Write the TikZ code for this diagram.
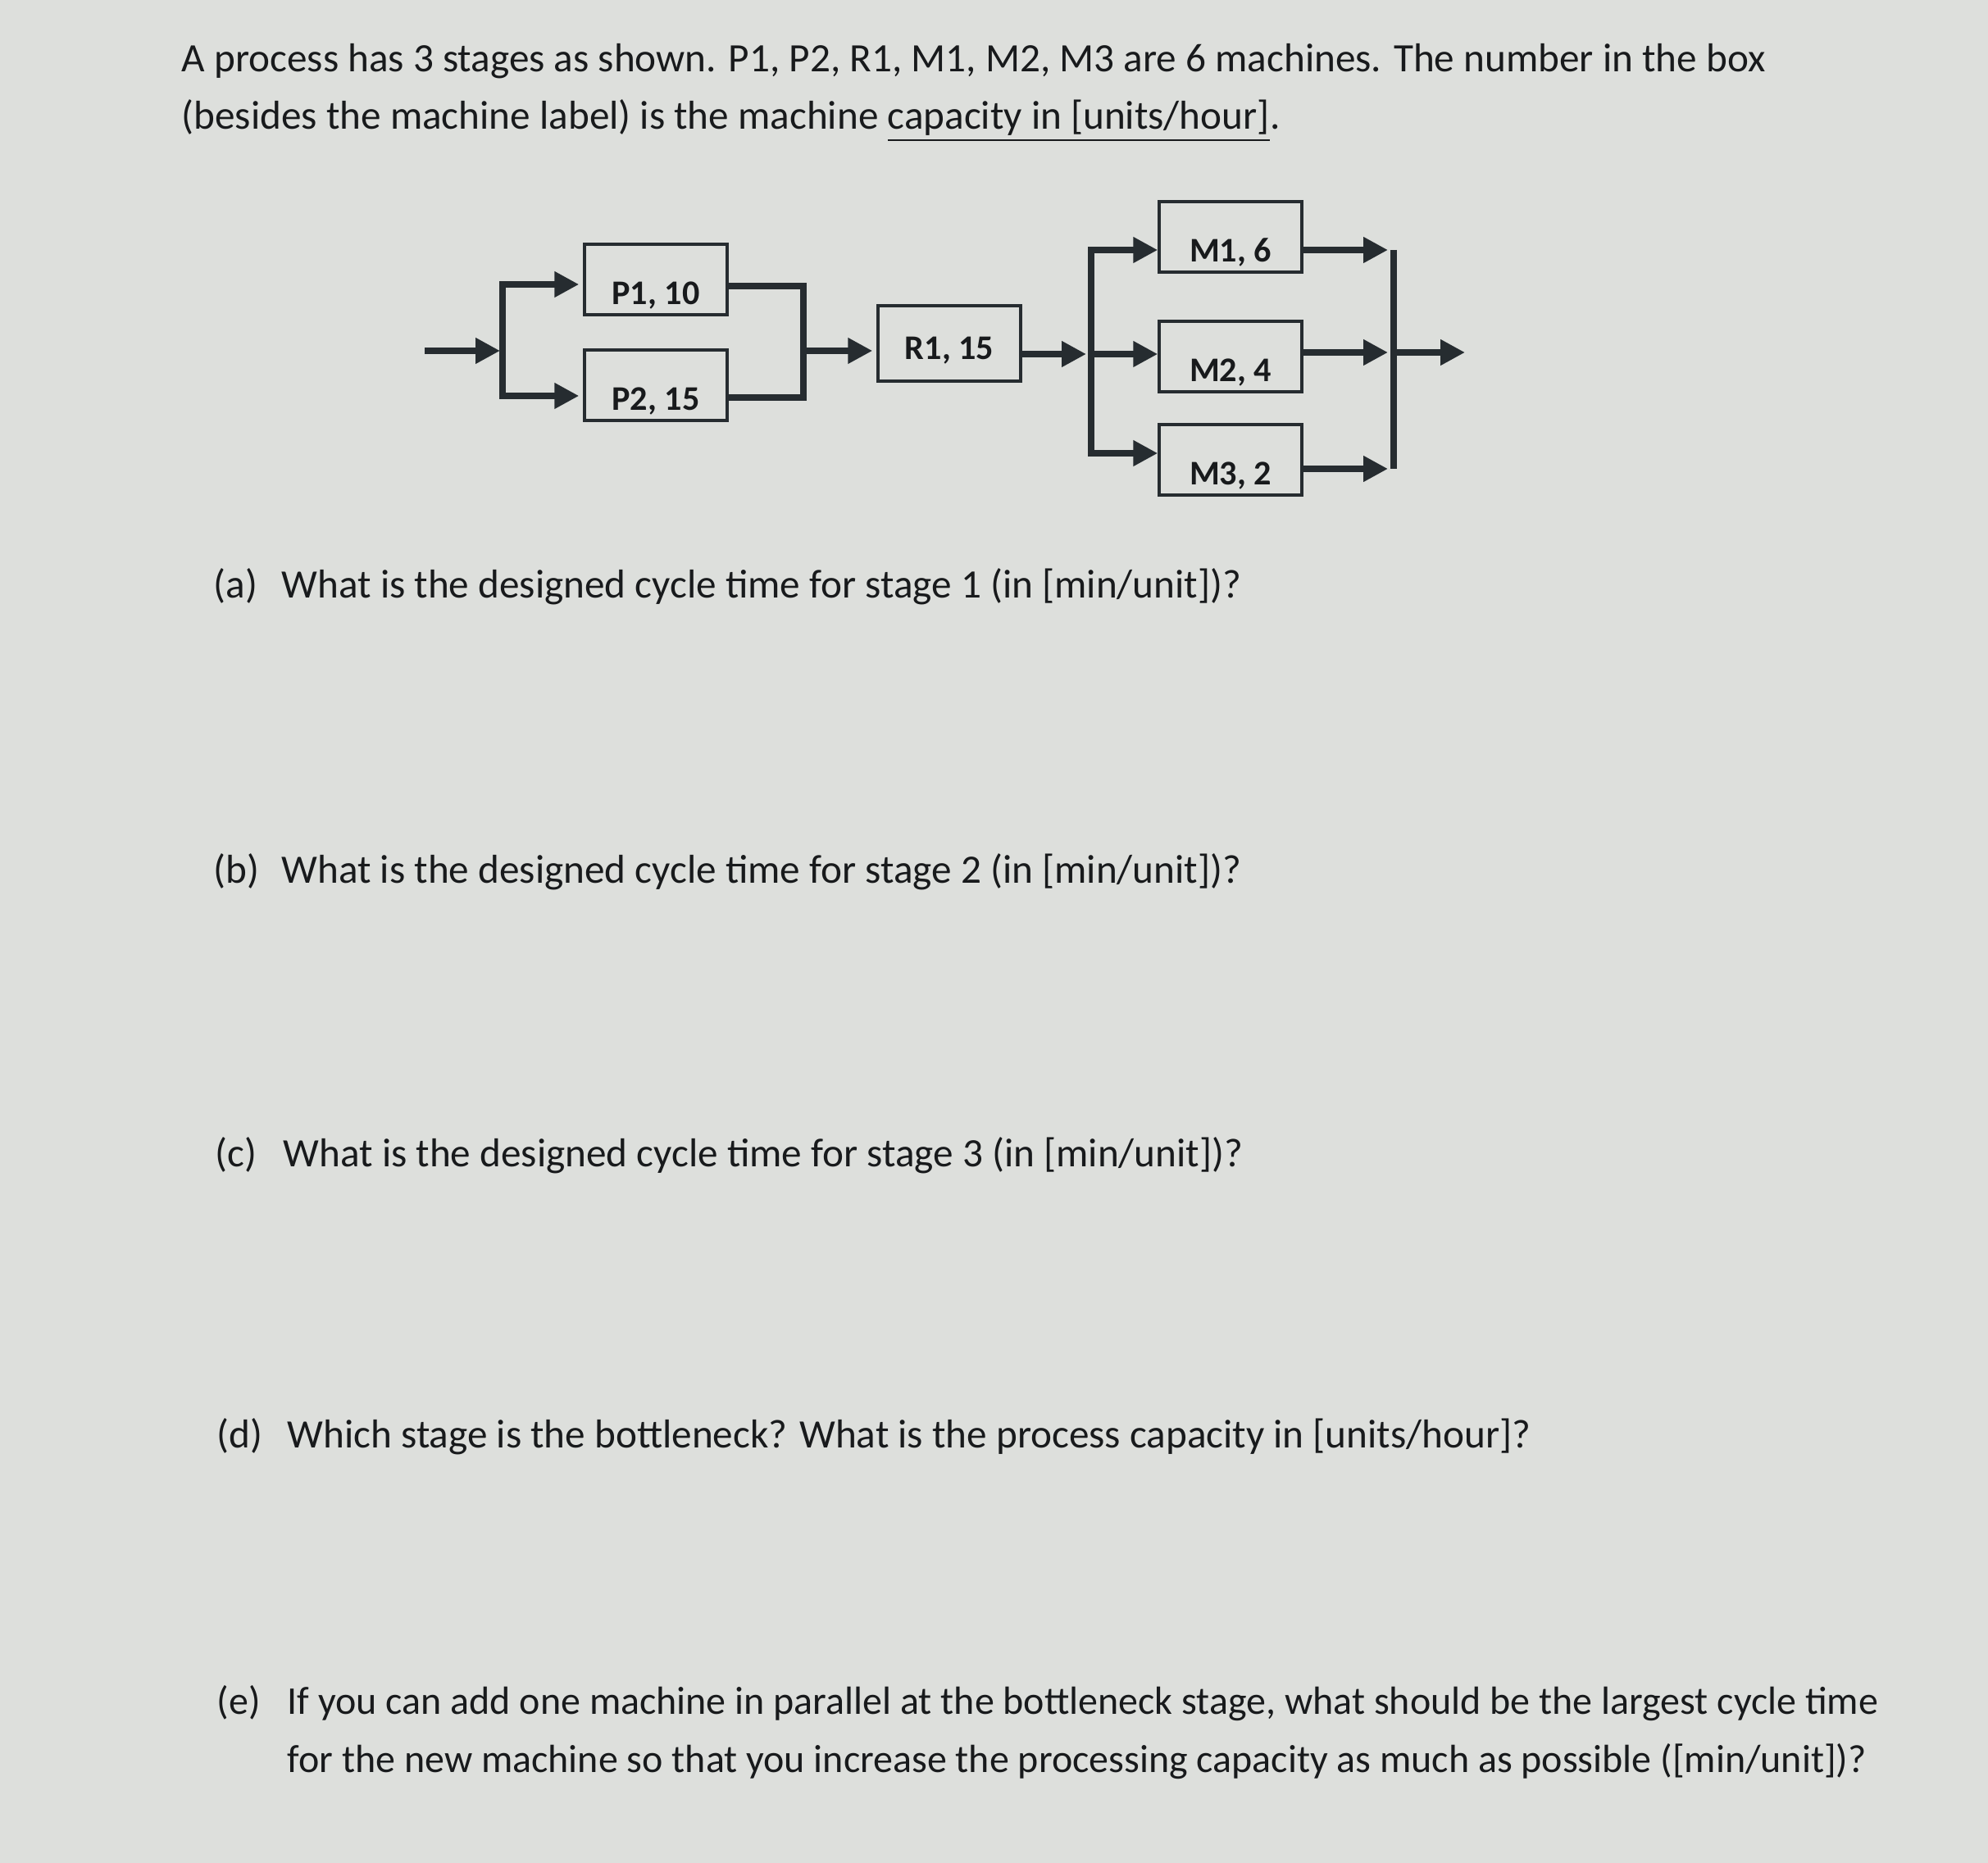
\documentclass[tikz,border=0pt]{standalone}
\usepackage{fontspec}
\setmainfont{Carlito}
\usetikzlibrary{arrows.meta}
\definecolor{screen}{RGB}{221,223,220}
\definecolor{ink}{RGB}{24,26,28}
\definecolor{wire}{RGB}{38,44,48}

\begin{document}
\begin{tikzpicture}[line join=miter,>={Triangle[length=3mm,width=3mm]},every node/.style={inner sep=1pt},
  machine/.style={draw=wire,line width=1pt,minimum width=1.74cm,inner sep=0pt,text height=0.74cm,text depth=0.12cm,font=\fontsize{12}{14}\selectfont\bfseries,text=ink},
  flow/.style={draw=wire,line width=2.2pt},
  para/.style={anchor=base west,inner sep=0pt,font=\fontsize{14}{18}\selectfont,text=ink}]
  \fill[screen] (0,0) rectangle (24.25,-22.73);
  \useasboundingbox (0,0) rectangle (24.25,-22.73);

  % statement
  \node[para] (head1) at (2.21,-0.88) {A process has 3 stages as shown. P1, P2, R1, M1, M2, M3 are 6 machines. The number in the box};
  \node[para] (head2) at (2.21,-1.58) {(besides the machine label) is the machine \underline{capacity in [units/hour]}.};

  % stage 1
  \node[machine] (P1) at (8.00,-3.41) {P1, 10};
  \node[machine] (P2) at (8.00,-4.70) {P2, 15};
  % stage 2
  \node[machine,text height=0.66cm,text depth=0.26cm] (R1) at (11.58,-4.19) {R1, 15};
  % stage 3
  \node[machine] (M1) at (15.01,-2.89) {M1, 6};
  \node[machine] (M2) at (15.01,-4.35) {M2, 4};
  \node[machine] (M3) at (15.01,-5.61) {M3, 2};

  \coordinate (in) at (5.18,-4.28);
  \coordinate (split) at (6.13,-4.28);
  \coordinate (merge) at (9.80,-4.28);
  \coordinate (fork) at (13.31,-4.32);
  \coordinate (jtop) at (17.00,-3.05);
  \coordinate (join) at (17.00,-4.30);
  \coordinate (jbot) at (17.00,-5.72);
  \coordinate (out) at (17.87,-4.30);

  \draw[flow,->,shorten >=0.03cm] (in) -- (split);
  \draw[flow,->,shorten >=0.05cm] (split) |- ([yshift=-0.06cm]P1.west);
  \draw[flow,->,shorten >=0.05cm] (split) |- ([yshift=-0.13cm]P2.west);
  \draw[flow] ([yshift=-0.08cm]P1.east) -| (merge);
  \draw[flow] ([yshift=-0.15cm]P2.east) -| (merge);
  \draw[flow,->,shorten >=0.05cm] (merge) -- (R1.west |- merge);
  \draw[flow,->,shorten >=0.06cm] (R1.east |- fork) -- (fork);
  \draw[flow,->] (fork) |- ([yshift=-0.16cm]M1.west);
  \draw[flow,->] (fork) -- (M2.west |- fork);
  \draw[flow,->] (fork) |- ([yshift=0.08cm]M3.west);
  \draw[flow,->,shorten >=0.07cm] ([yshift=-0.16cm]M1.east) -- (jtop);
  \draw[flow,->,shorten >=0.07cm] (M2.east |- join) -- (join);
  \draw[flow,->,shorten >=0.07cm] ([yshift=-0.11cm]M3.east) -- (jbot);
  \draw[flow] (jtop) -- (jbot);
  \draw[flow,->] (join) -- (out);

  % questions
  \node[para] (qa) at (2.60,-7.30) {\makebox[0.83cm][l]{(a)}What is the designed cycle time for stage 1 (in [min/unit])?};
  \node[para] (qb) at (2.60,-10.78) {\makebox[0.83cm][l]{(b)}What is the designed cycle time for stage 2 (in [min/unit])?};
  \node[para] (qc) at (2.62,-14.23) {\makebox[0.83cm][l]{(c)}What is the designed cycle time for stage 3 (in [min/unit])?};
  \node[para] (qd) at (2.64,-17.66) {\makebox[0.86cm][l]{(d)}Which stage is the bottleneck? What is the process capacity in [units/hour]?};
  \node[para,font=\fontsize{13.65}{18}\selectfont] (qe1) at (2.64,-20.91) {\makebox[0.86cm][l]{(e)}If you can add one machine in parallel at the bottleneck stage, what should be the largest cycle time};
  \node[para,font=\fontsize{13.65}{18}\selectfont] (qe2) at (3.50,-21.62) {for the new machine so that you increase the processing capacity as much as possible ([min/unit])?};
\end{tikzpicture}
\end{document}
